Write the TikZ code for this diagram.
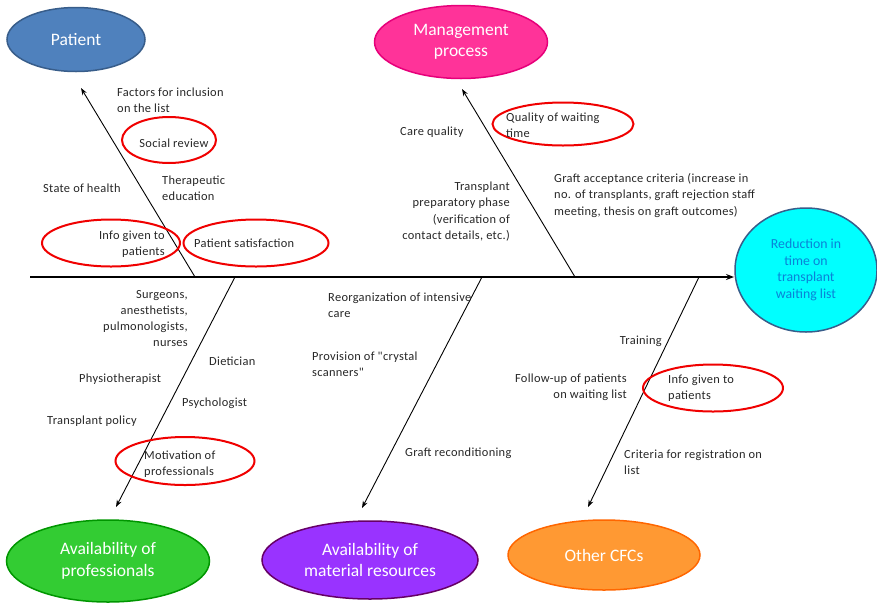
\documentclass[tikz,border=0pt]{standalone}
\usepackage{fontspec}
\setmainfont{Carlito}
\newfontfamily\lblfont[LetterSpace=2.5]{Carlito}
\usetikzlibrary{arrows.meta,shapes.geometric}
\definecolor{patfill}{RGB}{79,129,189}
\definecolor{patline}{RGB}{56,93,138}
\definecolor{mgfill}{RGB}{255,51,153}
\definecolor{mgline}{RGB}{230,0,122}
\definecolor{redfill}{RGB}{0,255,255}
\definecolor{redtext}{RGB}{10,130,215}
\definecolor{grfill}{RGB}{51,204,51}
\definecolor{grline}{RGB}{0,150,0}
\definecolor{pufill}{RGB}{153,51,255}
\definecolor{puline}{RGB}{102,0,102}
\definecolor{orfill}{RGB}{255,153,51}
\definecolor{orline}{RGB}{255,102,0}
\definecolor{hlred}{RGB}{240,0,0}
\tikzset{
  cat/.style={ellipse, line width=1.5pt, text=white, align=center, inner sep=0pt,
    font=\fontsize{17.5}{21.5}\selectfont},
  hl/.style={ellipse, draw=hlred, line width=2pt, inner sep=0pt},
  lbl/.style={font=\lblfont\fontsize{12.4}{16.2}\selectfont, inner sep=0pt, text=black!85},
  bone/.style={line width=0.9pt, -{Stealth[length=7pt,width=5pt]}},
}
\begin{document}
\begin{tikzpicture}[x=1pt,y=-1pt]
\useasboundingbox (0,0) rectangle (877,603);
% category ellipses
\node[cat, fill=patfill, draw=patline, minimum width=138pt, minimum height=64pt] (patient) at (76,39.5) {Patient};
\node[cat, fill=mgfill, draw=mgline, minimum width=173pt, minimum height=73pt] (mgmt) at (461,42) {Management\\process};
\node[cat, fill=redfill, draw=patline, minimum width=142pt, minimum height=124pt, text=redtext,
  font=\fontsize{13.8}{16.5}\selectfont] (goal) at (806,270) {Reduction in\\time on\\transplant\\waiting list};
\node[cat, fill=grfill, draw=grline, minimum width=203pt, minimum height=82pt] (prof) at (108,561) {Availability of\\professionals};
\node[cat, fill=pufill, draw=puline, minimum width=216pt, minimum height=78pt] (mat) at (370,560) {Availability of\\material resources};
\node[cat, fill=orfill, draw=orline, minimum width=192pt, minimum height=70pt] (oth) at (604,555) {Other CFCs};
% spine
\coordinate (s0) at (30,277);
\coordinate (s1) at (734,277);
\draw[line width=1.1pt, -{Stealth[length=8pt,width=6pt]}] (s0) -- (s1);
% bone roots and tips
\coordinate (bp0) at (195,277); \coordinate (bp1) at (81,88);
\coordinate (bm0) at (575,277); \coordinate (bm1) at (462,89);
\coordinate (bf0) at (235,277); \coordinate (bf1) at (116,507);
\coordinate (br0) at (482,277); \coordinate (br1) at (362,508);
\coordinate (bo0) at (699,277); \coordinate (bo1) at (588,507);
\draw[bone] (bp0) -- (bp1);
\draw[bone] (bm0) -- (bm1);
\draw[bone] (bf0) -- (bf1);
\draw[bone] (br0) -- (br1);
\draw[bone] (bo0) -- (bo1);
% highlight ellipses
\node[hl, minimum width=94pt, minimum height=46pt] (hsoc) at (169,140) {};
\node[hl, minimum width=138pt, minimum height=47pt] (hinfo1) at (111,243) {};
\node[hl, minimum width=145pt, minimum height=47pt] (hsat) at (256,243) {};
\node[hl, minimum width=141pt, minimum height=43pt] (hqual) at (563,124) {};
\node[hl, minimum width=139pt, minimum height=48pt] (hmot) at (185,461) {};
\node[hl, minimum width=140pt, minimum height=47pt] (hinfo2) at (713,388) {};
% labels - patient
\node[lbl, anchor=west, align=left] (t1) at (117,100.5) {Factors for inclusion\\on the list};
\node[lbl] (t2) at (174,143) {Social review};
\node[lbl, anchor=west] (t3) at (43,188) {State of health};
\node[lbl, anchor=west, align=left] (t4) at (162,188) {Therapeutic\\education};
\node[lbl, anchor=east, align=right] (t5) at (165,244) {Info given to\\patients};
\node[lbl, anchor=west] (t6) at (194,243) {Patient satisfaction};
% labels - management
\node[lbl, anchor=west] (t7) at (400,132) {Care quality};
\node[lbl, anchor=west, align=left] (t8) at (506,125.5) {Quality of waiting\\time};
\node[lbl, anchor=east, align=right] (t9) at (510,211.5) {Transplant\\preparatory phase\\(verification of\\contact details, etc.)};
\node[lbl, anchor=west, align=left] (t10) at (554,195.5) {Graft acceptance criteria (increase in\\no. of transplants, graft rejection staff\\meeting, thesis on graft outcomes)};
% labels - professionals
\node[lbl, anchor=east, align=right] (t11) at (188,318.5) {Surgeons,\\anesthetists,\\pulmonologists,\\nurses};
\node[lbl, anchor=west] (t12) at (209,361) {Dietician};
\node[lbl, anchor=west] (t13) at (79,379) {Physiotherapist};
\node[lbl, anchor=west] (t14) at (182,403) {Psychologist};
\node[lbl, anchor=west] (t15) at (47,421) {Transplant policy};
\node[lbl, anchor=west, align=left] (t16) at (144,464) {Motivation of\\professionals};
% labels - material
\node[lbl, anchor=west, align=left] (t17) at (328,305) {Reorganization of intensive\\care};
\node[lbl, anchor=west, align=left] (t18) at (312,364) {Provision of "crystal\\scanners"};
\node[lbl, anchor=west] (t19) at (405,453) {Graft reconditioning};
% labels - other
\node[lbl, anchor=east] (t20) at (662,341) {Training};
\node[lbl, anchor=east, align=right] (t21) at (627,387) {Follow-up of patients\\on waiting list};
\node[lbl, anchor=west, align=left] (t22) at (668,388.5) {Info given to\\patients};
\node[lbl, anchor=west, align=left] (t23) at (624,462) {Criteria for registration on\\list};
\end{tikzpicture}
\end{document}
